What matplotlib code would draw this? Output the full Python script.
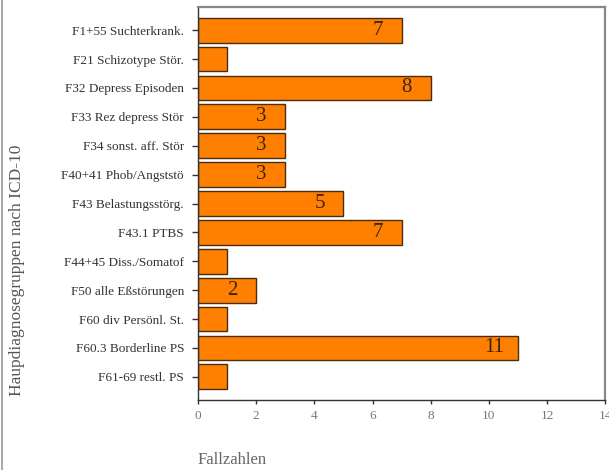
import matplotlib
matplotlib.use("Agg")
import matplotlib.pyplot as plt
from matplotlib.lines import Line2D

categories = [
    "F1+55 Suchterkrank.",
    "F21 Schizotype Stör.",
    "F32 Depress Episoden",
    "F33 Rez depress Stör",
    "F34 sonst. aff. Stör",
    "F40+41 Phob/Angststö",
    "F43 Belastungsstörg.",
    "F43.1 PTBS",
    "F44+45 Diss./Somatof",
    "F50 alle Eßstörungen",
    "F60 div Persönl. St.",
    "F60.3 Borderline PS",
    "F61-69 restl. PS",
]
counts = [7, 1, 8, 3, 3, 3, 5, 7, 1, 2, 1, 11, 1]
labelled = [True, False, True, True, True, True, True, True, False, True, False, True, False]
x_ticks = [0, 2, 4, 6, 8, 10, 12, 14]

plt.rcParams["font.family"] = ["Liberation Serif", "DejaVu Serif"]

fig = plt.figure(figsize=(6.09, 4.70), dpi=100)
ax = fig.add_axes([0.325, 0.149, 0.669, 0.836])

pos = list(range(len(categories)))
ax.barh(pos, counts, height=0.86, color="#FF8000", edgecolor="#4a2c10", linewidth=1.0)

for y, v, show in zip(pos, counts, labelled):
    if show:
        ax.text(v - 0.82, y, str(v), ha="center", va="center",
                fontsize=15, color="#3a2410")

ax.set_ylim(len(categories) - 0.2, -0.8)
ax.set_xlim(0, 14)
ax.set_yticks(pos)
ax.set_yticklabels(categories, fontsize=9.5, color="#333333")
ax.set_xticks(x_ticks)
ax.set_xticklabels([str(t) for t in x_ticks], fontsize=9.5, color="#777777")
ax.tick_params(axis="y", direction="out", length=4, width=1, pad=6, color="#333333")
ax.tick_params(axis="x", direction="out", length=3, width=1, pad=4, color="#333333")

for side in ("left", "bottom"):
    ax.spines[side].set_color("#333333")
    ax.spines[side].set_linewidth(1.0)
for side in ("top", "right"):
    ax.spines[side].set_color("#888888")
    ax.spines[side].set_linewidth(1.6)

fig.text(17 / 609, 1 - 270 / 470, "Haupdiagnosegruppen nach ICD-10", rotation=90,
         ha="center", va="center", fontsize=12.5, color="#555555")
fig.text(232 / 609, 1 - 460 / 470, "Fallzahlen", ha="center", va="center",
         fontsize=12, color="#666666")

# thin frame line along the left edge of the figure
fig.add_artist(Line2D([0.003, 0.003], [0, 1], transform=fig.transFigure,
                      color="#999999", linewidth=1.2))

fig.savefig("out.png", dpi=100)
